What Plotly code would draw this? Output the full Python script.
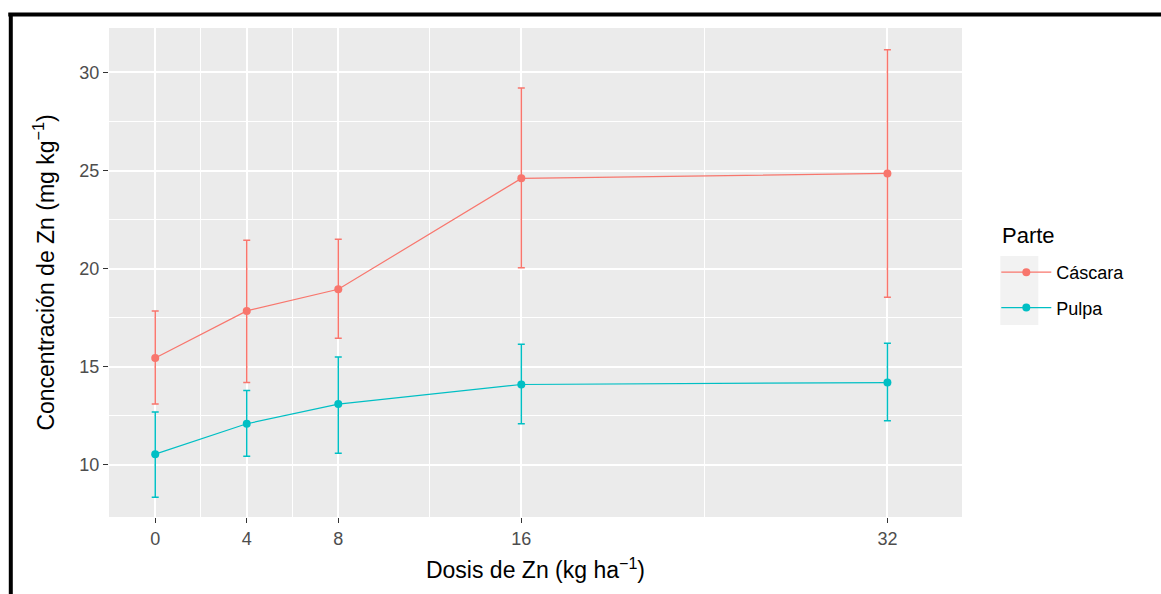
import plotly.graph_objects as go

# ---- data ----
dosis = [0, 4, 8, 16, 32]
x_ticks = [0, 4, 8, 16, 32]
y_ticks = [10, 15, 20, 25, 30]

cascara_mean = [15.45, 17.85, 18.95, 24.6, 24.85]
cascara_upper = [17.85, 21.45, 21.5, 29.2, 31.15]
cascara_lower = [13.1, 14.2, 16.45, 20.05, 18.55]

pulpa_mean = [10.55, 12.1, 13.1, 14.1, 14.2]
pulpa_upper = [12.7, 13.8, 15.5, 16.15, 16.2]
pulpa_lower = [8.35, 10.45, 10.6, 12.1, 12.25]

series = [
    ("Cáscara", cascara_mean, cascara_upper, cascara_lower, "#F8766D"),
    ("Pulpa", pulpa_mean, pulpa_upper, pulpa_lower, "#00BFC4"),
]

W, H = 1161, 594
L, R, T, B = 108.7, 1161 - 961.7, 28, 594 - 517
PW, PH = W - L - R, H - T - B

def px(xp):
    return (xp - L) / PW

def py(yp):
    return (H - B - yp) / PH

fig = go.Figure()
for name, m, up, lo, col in series:
    fig.add_trace(go.Scatter(
        x=dosis, y=m, name=name, mode="lines+markers", legendgroup=name,
        line=dict(color=col, width=1.2),
        marker=dict(color=col, size=8),
        error_y=dict(type="data", symmetric=False,
                     array=[u - v for u, v in zip(up, m)],
                     arrayminus=[v - l for v, l in zip(m, lo)],
                     color=col, thickness=1.5, width=3.5),
    ))

font = "Liberation Sans, Arial, sans-serif"

shapes = [
    # legend key background
    dict(type="rect", xref="paper", yref="paper",
         x0=px(1000), x1=px(1038), y0=py(325), y1=py(256),
         fillcolor="#F2F2F2", line=dict(width=0), layer="below"),
    # black frame (top and left edges of the picture)
    dict(type="line", xref="paper", yref="paper",
         x0=px(8), x1=px(1161), y0=py(14.5), y1=py(14.5),
         line=dict(color="black", width=4)),
    dict(type="line", xref="paper", yref="paper",
         x0=px(10.5), x1=px(10.5), y0=py(13), y1=py(594),
         line=dict(color="black", width=4)),
]

annotations = [
    dict(text="Parte", xref="paper", yref="paper", x=px(1000), y=py(235),
         xanchor="left", yanchor="middle", showarrow=False,
         font=dict(size=22, color="black", family=font)),
]

fig.update_layout(
    width=W, height=H,
    margin=dict(l=L, r=R, t=T, b=B, pad=0),
    paper_bgcolor="white",
    plot_bgcolor="#EBEBEB",
    font=dict(family=font, color="#4D4D4D"),
    showlegend=True,
    legend=dict(
        font=dict(size=18, color="black"),
        x=px(996), y=py(254), xanchor="left", yanchor="top",
        bgcolor="rgba(0,0,0,0)", itemwidth=50, tracegroupgap=9,
        traceorder="grouped",
    ),
    shapes=shapes,
    annotations=annotations,
    xaxis=dict(
        range=[-2.02, 35.26], tickmode="array", tickvals=x_ticks,
        ticktext=[str(v) for v in x_ticks],
        showgrid=True, gridcolor="white", gridwidth=1.6,
        minor=dict(tickmode="array", tickvals=[2, 6, 12, 24],
                   showgrid=True, gridcolor="white", gridwidth=0.8, ticklen=0),
        zeroline=False, showline=False,
        ticks="outside", ticklen=5, tickcolor="#333333", tickwidth=1.2,
        tickfont=dict(size=18, color="#4D4D4D"),
        title=dict(text="Dosis de Zn (kg ha<sup>−1</sup>)",
                   font=dict(size=23, color="black"), standoff=14),
    ),
    yaxis=dict(
        range=[7.35, 32.26], tickmode="array", tickvals=y_ticks,
        ticktext=[str(v) for v in y_ticks],
        showgrid=True, gridcolor="white", gridwidth=1.6,
        minor=dict(tickmode="array", tickvals=[12.5, 17.5, 22.5, 27.5],
                   showgrid=True, gridcolor="white", gridwidth=0.8, ticklen=0),
        zeroline=False, showline=False,
        ticks="outside", ticklen=5, tickcolor="#333333", tickwidth=1.2,
        tickfont=dict(size=18, color="#4D4D4D"),
        title=dict(text="Concentración de Zn (mg kg<sup>−1</sup>)",
                   font=dict(size=23, color="black"), standoff=18),
    ),
)

fig.write_html("out.html", config={"displayModeBar": False},
               post_script="document.body.style.margin='0';document.body.style.overflow='hidden';")
